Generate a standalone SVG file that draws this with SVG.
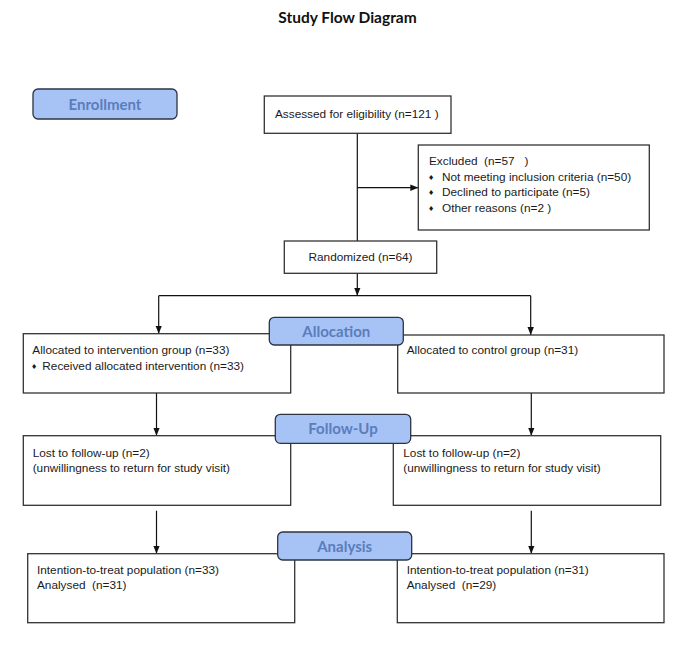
<svg xmlns="http://www.w3.org/2000/svg" width="685" height="647" viewBox="0 0 685 647">
<defs>
<marker id="ah" markerWidth="8" markerHeight="8" viewBox="0 0 8 8" refX="8" refY="4" orient="auto" markerUnits="userSpaceOnUse">
<path d="M0,0.8 L8,4 L0,7.2 Z" fill="#111"/>
</marker>
</defs>
<style>
.box{fill:#fff;stroke:#333;stroke-width:1.3}
.lbl{fill:#a7c3f6;stroke:#2c3442;stroke-width:1.3}
.t{font-family:"Liberation Sans",Arial,sans-serif;font-size:11.8px;fill:#1a1a1a;white-space:pre}
.b{font-family:"DejaVu Sans",sans-serif;font-size:7px;fill:#1a1a1a}
.lt{font-family:Lato,"Open Sans",sans-serif;font-weight:bold;font-size:15px;fill:#5a7dbb;text-anchor:middle}
.title{font-family:Lato,"Open Sans",sans-serif;font-weight:bold;font-size:15.5px;fill:#111;text-anchor:middle}
.c{fill:none;stroke:#111;stroke-width:1.2}
</style>
<rect width="685" height="647" fill="#fff"/>
<text class="title" x="347.5" y="23">Study Flow Diagram</text>

<g id="connectors">
<line class="c" x1="357.3" y1="133.3" x2="357.3" y2="241"/>
<line class="c" x1="357.3" y1="187.7" x2="418.3" y2="187.7" marker-end="url(#ah)"/>
<line class="c" x1="357.3" y1="273.3" x2="357.3" y2="295.7" marker-end="url(#ah)"/>
<line class="c" x1="158.7" y1="295.7" x2="530.7" y2="295.7"/>
<line class="c" x1="158.7" y1="295.7" x2="158.7" y2="333.7" marker-end="url(#ah)"/>
<line class="c" x1="530.7" y1="295.7" x2="530.7" y2="335" marker-end="url(#ah)"/>
<line class="c" x1="156.5" y1="393" x2="156.5" y2="435.7" marker-end="url(#ah)"/>
<line class="c" x1="531.3" y1="393" x2="531.3" y2="435.7" marker-end="url(#ah)"/>
<line class="c" x1="156.5" y1="510.7" x2="156.5" y2="553.7" marker-end="url(#ah)"/>
<line class="c" x1="531.3" y1="510.7" x2="531.3" y2="553.7" marker-end="url(#ah)"/>
</g>

<g id="enrollment">
<rect class="lbl" x="33" y="89" width="144" height="30" rx="5"/>
<text class="lt" x="105" y="109.5">Enrollment</text>
</g>

<g id="assessed">
<rect class="box" x="264.3" y="96" width="186.7" height="37.3"/>
<text class="t" x="275" y="117.5">Assessed for eligibility (n=121 )</text>
</g>

<g id="excluded">
<rect class="box" x="418.3" y="145" width="231" height="85"/>
<text class="t" x="429" y="164.5">Excluded  (n=57   )</text>
<text class="b" x="428" y="179.5">♦</text>
<text class="t" x="442" y="180.5">Not meeting inclusion criteria (n=50)</text>
<text class="b" x="428" y="195">♦</text>
<text class="t" x="442" y="196">Declined to participate (n=5)</text>
<text class="b" x="428" y="210.5">♦</text>
<text class="t" x="442" y="211.5">Other reasons (n=2 )</text>
</g>

<g id="randomized">
<rect class="box" x="284.3" y="241" width="152.4" height="32.3"/>
<text class="t" x="360.5" y="261" text-anchor="middle">Randomized (n=64)</text>
</g>

<g id="alloc-intervention">
<rect class="box" x="23.3" y="333.7" width="267.4" height="59.3"/>
<text class="t" x="32.3" y="353.5">Allocated to intervention group (n=33)</text>
<text class="b" x="31" y="369">♦</text>
<text class="t" x="42.3" y="370">Received allocated intervention (n=33)</text>
</g>

<g id="alloc-control">
<rect class="box" x="397.7" y="335" width="266.3" height="58"/>
<text class="t" x="406.7" y="354">Allocated to control group (n=31)</text>
</g>

<g id="allocation">
<rect class="lbl" x="269.3" y="317.3" width="134" height="27.7" rx="5"/>
<text class="lt" x="336.3" y="337.3">Allocation</text>
</g>

<g id="followup-intervention">
<rect class="box" x="23.3" y="435.7" width="267.4" height="69.6"/>
<text class="t" x="32.7" y="456.7">Lost to follow-up (n=2)</text>
<text class="t" x="32.7" y="472">(unwillingness to return for study visit)</text>
</g>

<g id="followup-control">
<rect class="box" x="393.3" y="435.7" width="267.4" height="69.6"/>
<text class="t" x="403.3" y="456.7">Lost to follow-up (n=2)</text>
<text class="t" x="403.3" y="472">(unwillingness to return for study visit)</text>
</g>

<g id="follow-up">
<rect class="lbl" x="275.3" y="414.3" width="135.4" height="29" rx="5"/>
<text class="lt" x="343" y="434.3">Follow-Up</text>
</g>

<g id="analysis-intervention">
<rect class="box" x="27.7" y="553.7" width="267" height="69"/>
<text class="t" x="37" y="573.5">Intention-to-treat population (n=33)</text>
<text class="t" x="37" y="589">Analysed  (n=31)</text>
</g>

<g id="analysis-control">
<rect class="box" x="397.3" y="553.7" width="266.7" height="69"/>
<text class="t" x="406.7" y="573.5">Intention-to-treat population (n=31)</text>
<text class="t" x="406.7" y="589">Analysed  (n=29)</text>
</g>

<g id="analysis">
<rect class="lbl" x="277.7" y="532" width="134" height="28" rx="5"/>
<text class="lt" x="344.7" y="551.7">Analysis</text>
</g>
</svg>
